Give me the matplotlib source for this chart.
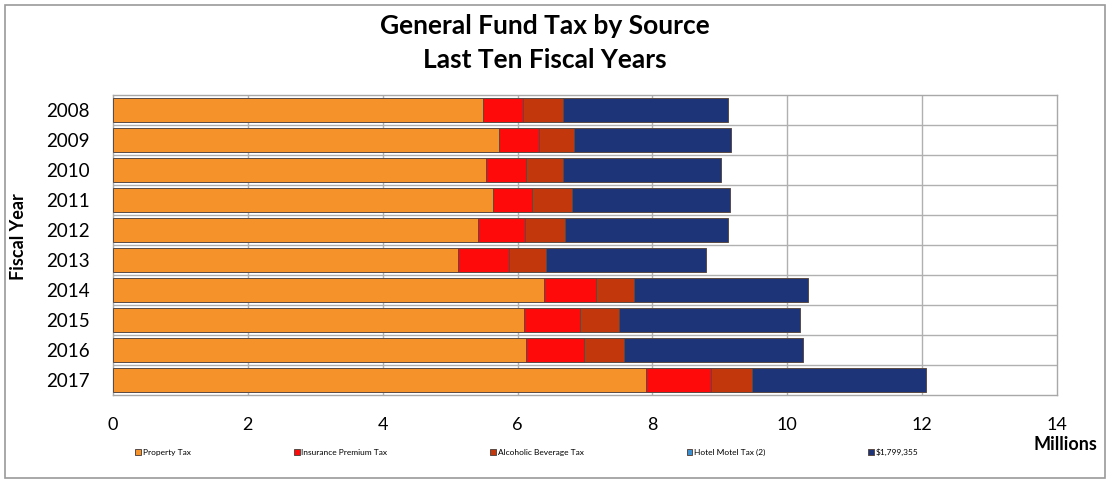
import matplotlib
matplotlib.use("Agg")
import matplotlib.pyplot as plt
from matplotlib.patches import Rectangle
import numpy as np

years = ["2008", "2009", "2010", "2011", "2012", "2013", "2014", "2015", "2016", "2017"]
property_tax = [5.49, 5.72, 5.53, 5.64, 5.41, 5.11, 6.39, 6.10, 6.12, 7.91]
insurance_tax = [0.59, 0.60, 0.59, 0.57, 0.70, 0.76, 0.78, 0.82, 0.86, 0.96]
alcohol_tax = [0.59, 0.52, 0.56, 0.59, 0.60, 0.55, 0.56, 0.59, 0.60, 0.60]
hotel_tax = [0, 0, 0, 0, 0, 0, 0, 0, 0, 0]
other_tax = [2.45, 2.32, 2.34, 2.35, 2.41, 2.38, 2.57, 2.68, 2.66, 2.58]
series_names = ["Property Tax", "Insurance Premium Tax", "Alcoholic Beverage Tax",
                "Hotel Motel Tax (2)", "\\$1,799,355"]
series_colors = ["#F5922A", "#FF0A0A", "#C2380C", "#3A8FD0", "#1D3479"]
x_ticks = [0, 2, 4, 6, 8, 10, 12, 14]

plt.rcParams['font.family'] = ['Lato', 'DejaVu Sans']

W, H = 1111, 482
fig = plt.figure(figsize=(W / 100, H / 100), dpi=100)
fig.patch.set_facecolor("white")

# outer border
fig.add_artist(Rectangle((5 / W, 4 / H), 1100 / W, 473 / H, transform=fig.transFigure,
                         fill=False, edgecolor="#9a9a9a", linewidth=1.2))

left, right, top, bottom = 113, 1057, 95, 395
ax = fig.add_axes([left / W, 1 - bottom / H, (right - left) / W, (bottom - top) / H])

y = np.arange(len(years))
series = [property_tax, insurance_tax, alcohol_tax, hotel_tax, other_tax]
base = np.zeros(len(years))
handles = []
for vals, name, col in zip(series, series_names, series_colors):
    vals = np.array(vals, dtype=float)
    b = ax.barh(y, vals, left=base, height=0.78, color=col, edgecolor="#5a4a44",
                linewidth=0.7, label=name, zorder=3)
    handles.append(b)
    base = base + vals

ax.set_xlim(0, 14)
ax.set_ylim(len(years) - 0.5, -0.5)
ax.set_xticks(x_ticks)
ax.set_xticklabels([str(t) for t in x_ticks], fontsize=13)
ax.set_yticks(y)
ax.set_yticklabels(years, fontsize=13.5)
ax.tick_params(axis="x", length=0, pad=16)
ax.tick_params(axis="y", length=0, pad=17)

# gridlines: vertical at major ticks, horizontal at row boundaries
for t in x_ticks[1:-1]:
    ax.axvline(t, color="#b0b0b0", linewidth=1, zorder=1)
for b_ in np.arange(0.5, len(years) - 0.5, 1):
    ax.axhline(b_, color="#b0b0b0", linewidth=1, zorder=1)
for s in ax.spines.values():
    s.set_color("#a8a8a8")
    s.set_linewidth(1)

fig.text(545 / W, 1 - 26 / H, "General Fund Tax by Source", ha="center", va="center",
         fontsize=19, fontweight="bold")
fig.text(545 / W, 1 - 60 / H, "Last Ten Fiscal Years", ha="center", va="center",
         fontsize=19, fontweight="bold")
fig.text(18 / W, 1 - 237 / H, "Fiscal Year", rotation=90, ha="center", va="center",
         fontsize=13, fontweight="bold")
fig.text(1097 / W, 1 - 445 / H, "Millions", ha="right", va="center",
         fontsize=13, fontweight="bold")

leg = fig.legend(handles=handles, loc="center", ncol=5, mode="expand",
                 bbox_to_anchor=(132 / W, 1 - 452 / H, 790 / W, 0),
                 frameon=False, fontsize=6, handlelength=0.7, handleheight=0.7,
                 handletextpad=0.2, borderaxespad=0)

fig.savefig("out.png", dpi=100, facecolor="white")
